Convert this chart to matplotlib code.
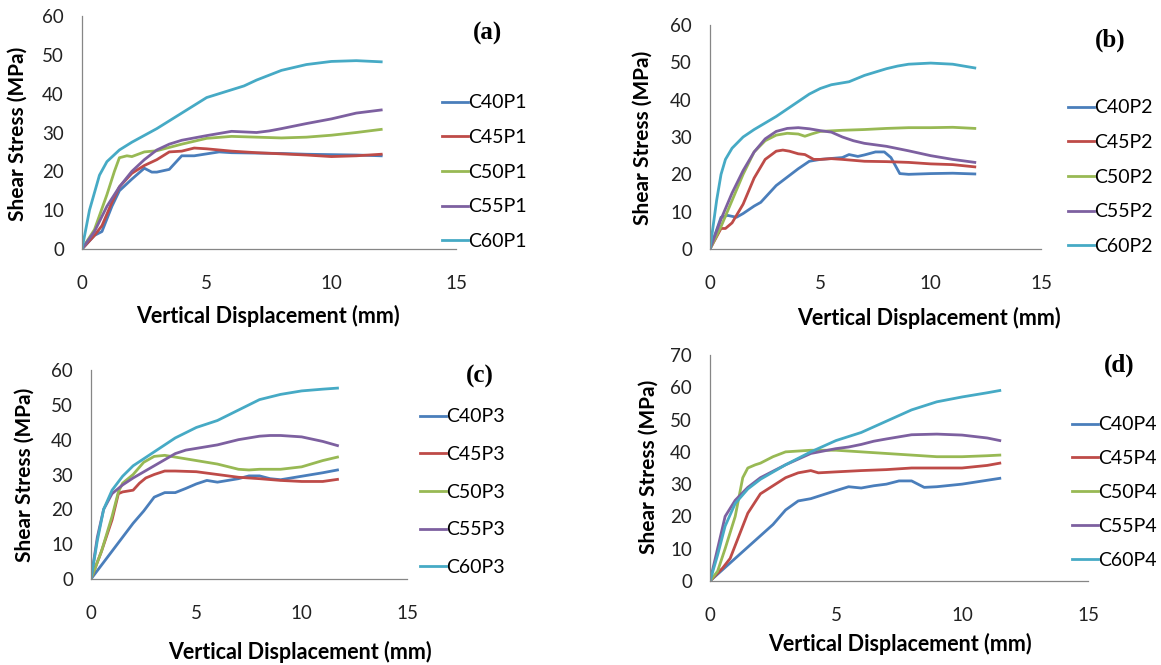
import matplotlib
matplotlib.use("Agg")
import matplotlib.pyplot as plt

plt.rcParams['font.family'] = ['Lato', 'DejaVu Sans']

COLORS = ["#4A7EBB", "#BE4B48", "#98B954", "#7D60A0", "#46AAC5"]
AXIS_GRAY = "#868686"

# ---------------- data ----------------
# (a) P1
a_x40 = [0, 0.5, 0.8, 1.2, 1.5, 2, 2.5, 2.8, 3, 3.5, 4, 4.5, 5, 5.5, 6, 7, 8, 9, 10, 11, 12]
a_y40 = [0, 3.5, 4.5, 11, 15, 18, 20.8, 19.8, 19.8, 20.5, 24, 24, 24.5, 25, 24.8, 24.7, 24.6, 24.4, 24.3, 24.2, 24.0]
a_x45 = [0, 0.5, 0.8, 1.2, 1.5, 2, 2.5, 3, 3.5, 4, 4.5, 5, 6, 7, 8, 9, 10, 11, 12]
a_y45 = [0, 3.5, 6, 12, 16, 19.5, 21.5, 23, 25, 25.2, 26, 25.8, 25.2, 24.8, 24.5, 24.2, 23.8, 24, 24.4]
a_x50 = [0, 0.5, 1, 1.3, 1.5, 1.8, 2, 2.5, 3, 4, 5, 6, 7, 8, 9, 10, 11, 12]
a_y50 = [0, 5, 14, 20, 23.5, 24, 23.8, 25, 25.3, 27, 28.5, 29, 28.8, 28.6, 28.8, 29.3, 30, 30.8]
a_x55 = [0, 0.5, 1, 1.5, 2, 2.5, 3, 3.5, 4, 5, 6, 7, 7.5, 8, 9, 10, 11, 12]
a_y55 = [0, 4.5, 11, 16, 20, 23, 25.5, 27, 28, 29.2, 30.3, 30, 30.4, 31, 32.3, 33.5, 35, 35.8]
a_x60 = [0, 0.3, 0.7, 1, 1.5, 2, 3, 4, 5, 6, 6.5, 7, 8, 9, 10, 11, 12]
a_y60 = [0, 10, 19, 22.5, 25.5, 27.5, 31, 35, 39, 41, 42, 43.5, 46, 47.5, 48.3, 48.5, 48.2]

# (b) P2
b_x40 = [0, 0.5, 0.8, 1.2, 1.5, 2, 2.3, 3, 4, 4.5, 5, 6, 6.3, 6.7, 7, 7.5, 7.9, 8.2, 8.6, 9, 10, 11, 12]
b_y40 = [0, 8.5, 9, 8.5, 9.5, 11.5, 12.5, 17, 21.5, 23.5, 24, 24.5, 25.3, 24.8, 25.2, 26, 26, 24.5, 20.2, 20, 20.2, 20.3, 20.1]
b_x45 = [0, 0.5, 0.7, 1, 1.5, 2, 2.5, 3, 3.3, 3.6, 4, 4.3, 4.7, 5, 5.5, 6, 7, 8, 9, 10, 11, 12]
b_y45 = [0, 5.5, 5.5, 7, 12, 19, 24, 26.2, 26.5, 26.2, 25.5, 25.3, 24, 24, 24.2, 24, 23.5, 23.4, 23.2, 22.8, 22.6, 22.0]
b_x50 = [0, 0.5, 1, 1.5, 2, 2.5, 3, 3.5, 4, 4.3, 4.6, 5, 6, 7, 8, 9, 10, 11, 12]
b_y50 = [0, 6, 13, 20, 26, 29, 30.5, 31, 30.8, 30.2, 30.8, 31.5, 31.8, 32, 32.3, 32.5, 32.5, 32.6, 32.3]
b_x55 = [0, 0.5, 1, 1.5, 2, 2.5, 3, 3.5, 4, 4.5, 5, 5.5, 6, 6.5, 7, 8, 9, 10, 11, 12]
b_y55 = [0, 8, 15, 21, 26, 29.5, 31.5, 32.3, 32.5, 32.2, 31.7, 31.3, 30, 29, 28.3, 27.5, 26.3, 25, 24, 23.2]
b_x60 = [0, 0.3, 0.5, 0.7, 1, 1.5, 2, 3, 4, 4.5, 5, 5.5, 6, 6.3, 7, 8, 8.5, 9, 10, 11, 12]
b_y60 = [0, 13, 20, 24, 27, 30, 32, 35.5, 39.5, 41.5, 43, 44, 44.5, 44.8, 46.5, 48.3, 49, 49.5, 49.8, 49.5, 48.5]

# (c) P3
c_x40 = [0, 0.5, 1, 1.5, 2, 2.5, 3, 3.5, 4, 4.5, 5, 5.5, 6, 6.5, 7, 7.5, 8, 8.5, 9, 10, 11, 11.7]
c_y40 = [0, 4, 8, 12, 16, 19.5, 23.5, 24.8, 24.8, 26, 27.3, 28.3, 27.8, 28.3, 28.8, 29.6, 29.6, 28.8, 28.5, 29.5, 30.5, 31.3]
c_x45 = [0, 0.5, 1, 1.3, 1.5, 2, 2.3, 2.6, 3, 3.5, 4, 5, 6, 7, 8, 9, 10, 11, 11.7]
c_y45 = [0, 8, 17, 24.5, 25, 25.5, 27.5, 29, 30, 31, 31, 30.8, 30, 29.2, 28.8, 28.3, 28, 28, 28.6]
c_x50 = [0, 0.5, 1, 1.3, 1.5, 2, 2.5, 3, 3.5, 4, 5, 6, 7, 7.5, 8, 9, 10, 11, 11.7]
c_y50 = [0, 8, 18, 25, 27.5, 30, 33.5, 35.2, 35.5, 35, 34, 33, 31.5, 31.3, 31.5, 31.5, 32.2, 34, 35]
c_x55 = [0, 0.3, 0.6, 1, 1.5, 2, 3, 4, 4.5, 5, 6, 7, 8, 8.5, 9, 10, 11, 11.7]
c_y55 = [0, 12, 20, 24.5, 27, 29, 32.5, 36, 37, 37.5, 38.5, 40, 41, 41.2, 41.2, 40.8, 39.5, 38.3]
c_x60 = [0, 0.3, 0.6, 1, 1.5, 2, 3, 4, 5, 6, 7, 8, 9, 10, 11, 11.7]
c_y60 = [0, 11, 20, 25.5, 29.5, 32.5, 36.5, 40.5, 43.5, 45.5, 48.5, 51.5, 53, 54, 54.5, 54.8]

# (d) P4
d_x40 = [0, 1, 2, 2.5, 3, 3.5, 4, 5, 5.5, 6, 6.5, 7, 7.5, 8, 8.5, 9, 10, 11, 11.5]
d_y40 = [0, 7, 14, 17.5, 22, 24.8, 25.5, 28, 29.2, 28.8, 29.5, 30, 31, 31, 29, 29.2, 30, 31.2, 31.8]
d_x45 = [0, 0.5, 0.8, 1, 1.3, 1.5, 2, 2.5, 3, 3.5, 4, 4.3, 5, 6, 7, 8, 9, 10, 11, 11.5]
d_y45 = [0, 4, 7, 11, 17, 21, 27, 29.5, 32, 33.5, 34.2, 33.5, 33.8, 34.2, 34.5, 35, 35, 35, 35.8, 36.5]
d_x50 = [0, 0.3, 0.6, 1, 1.3, 1.5, 1.8, 2, 2.5, 3, 4, 5, 6, 7, 8, 9, 10, 11, 11.5]
d_y50 = [0, 3, 10, 20, 32, 35, 36, 36.5, 38.5, 40, 40.5, 40.5, 40, 39.5, 39, 38.5, 38.5, 38.8, 39]
d_x55 = [0, 0.3, 0.6, 1, 1.5, 2, 3, 4, 5, 5.5, 6, 6.5, 7, 8, 9, 10, 11, 11.5]
d_y55 = [0, 10, 20, 25, 29, 32, 36, 39.5, 41, 41.5, 42.3, 43.3, 44, 45.3, 45.5, 45.2, 44.3, 43.5]
d_x60 = [0, 0.3, 0.6, 1, 1.5, 2, 3, 4, 5, 6, 7, 8, 9, 10, 11, 11.5]
d_y60 = [0, 8, 17, 24, 28.5, 31.5, 36, 40, 43.5, 46, 49.5, 53, 55.5, 57, 58.3, 59]

x_ticks = [0, 5, 10, 15]
ylim_abc = 60
ylim_d = 70

panels = [
    ("(a)", "P1", [(a_x40, a_y40), (a_x45, a_y45), (a_x50, a_y50), (a_x55, a_y55), (a_x60, a_y60)], ylim_abc),
    ("(b)", "P2", [(b_x40, b_y40), (b_x45, b_y45), (b_x50, b_y50), (b_x55, b_y55), (b_x60, b_y60)], ylim_abc),
    ("(c)", "P3", [(c_x40, c_y40), (c_x45, c_y45), (c_x50, c_y50), (c_x55, c_y55), (c_x60, c_y60)], ylim_abc),
    ("(d)", "P4", [(d_x40, d_y40), (d_x45, d_y45), (d_x50, d_y50), (d_x55, d_y55), (d_x60, d_y60)], ylim_d),
]
grades = ["C40", "C45", "C50", "C55", "C60"]

# layout in pixels of the 1161x665 canvas: left, top, right, bottom
W, H = 1161, 665
boxes = [(82, 16, 456, 249), (710, 25, 1041, 249), (91, 370, 407, 579), (710, 355, 1088, 581)]
# legend: handle left x, first row y, last row y
legend_pos = [(442, 108, 233), (1068, 113, 238), (420, 422, 559), (1072, 430, 552)]
tag_pos = [(488, 33), (1110, 40), (480, 376), (1119, 365)]
ylab_pos = [(18, 134), (643, 138), (25, 475), (649, 467)]
xlab_pos = [(268, 316), (929, 318), (300, 652), (900, 644)]

fig = plt.figure(figsize=(W / 100, H / 100), dpi=100)

for i, (tag, suffix, series, ytop) in enumerate(panels):
    l, t, r, b = boxes[i]
    ax = fig.add_axes([l / W, 1 - b / H, (r - l) / W, (b - t) / H])
    for (xs, ys), g, c in zip(series, grades, COLORS):
        ax.plot(xs, ys, color=c, lw=2.0, label=g + suffix, solid_joinstyle='round')

    ax.set_xlim(0, 15)
    ax.set_ylim(0, ytop)
    ax.set_xticks(x_ticks)
    ax.set_yticks(range(0, ytop + 1, 10))
    ax.tick_params(length=0, labelsize=13.5, colors="#222222")
    ax.tick_params(axis='x', pad=19)
    ax.tick_params(axis='y', pad=13)
    for s in ('top', 'right'):
        ax.spines[s].set_visible(False)
    for s in ('left', 'bottom'):
        ax.spines[s].set_color(AXIS_GRAY)
        ax.spines[s].set_linewidth(0.9)
    ax.patch.set_visible(False)

    fig.text(ylab_pos[i][0] / W, 1 - ylab_pos[i][1] / H, "Shear Stress (MPa)", rotation=90,
             ha='center', va='center', fontsize=15, fontweight='bold')
    fig.text(xlab_pos[i][0] / W, 1 - xlab_pos[i][1] / H,
             "Vertical Displacement (mm)", ha='center', va='center',
             fontsize=15.5, fontweight='bold')
    fig.text(tag_pos[i][0] / W, 1 - tag_pos[i][1] / H, tag, ha='center', va='center',
             fontsize=18, fontweight='bold', family='Liberation Serif')

    lx, ly0, ly1 = legend_pos[i]
    fs = 14
    fig.legend(*ax.get_legend_handles_labels(), loc='upper left',
               bbox_to_anchor=(lx / W, 1 - (ly0 - 0.7 * fs * 100 / 72) / H),
               frameon=False, fontsize=fs, handlelength=1.35, handletextpad=0.0,
               labelspacing=(ly1 - ly0) / 4 / (fs * 100 / 72) - 0.7,
               borderpad=0, borderaxespad=0)

fig.savefig("out.png", dpi=100)
